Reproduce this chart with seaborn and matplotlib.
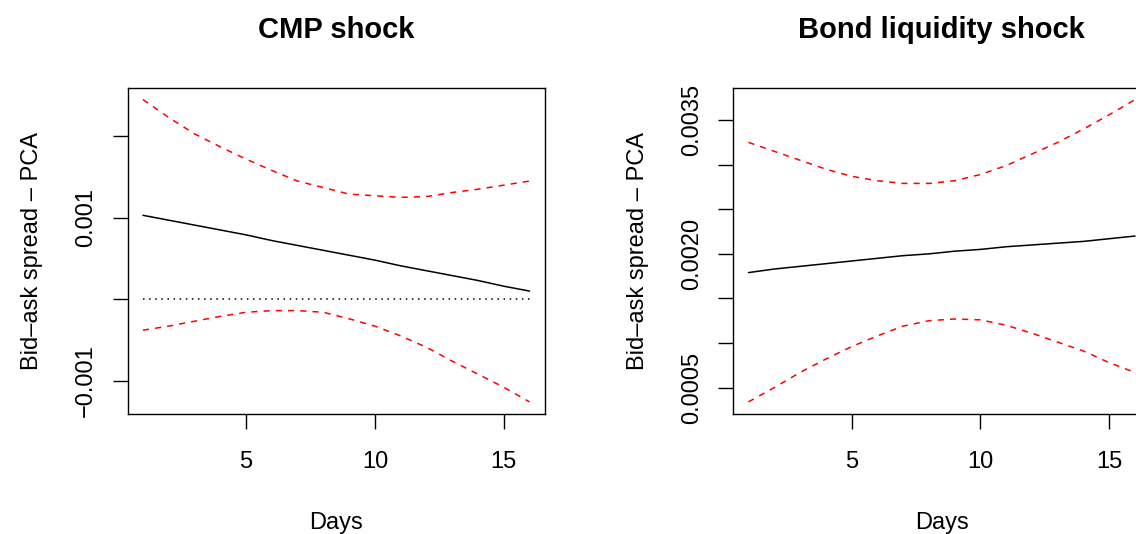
import numpy as np
import pandas as pd
import matplotlib
matplotlib.use("Agg")
import matplotlib.pyplot as plt
import seaborn as sns

# ---------------- data ----------------
days = list(range(1, 17))

cmp_irf = [0.00103, 0.00097, 0.00091, 0.00085, 0.00079, 0.00072, 0.00066, 0.00060,
           0.00054, 0.00048, 0.00041, 0.00035, 0.00029, 0.00023, 0.00016, 0.00010]
cmp_upper = [0.00245, 0.00223, 0.00203, 0.00187, 0.00172, 0.00158, 0.00145, 0.00137,
             0.00129, 0.00127, 0.00125, 0.00126, 0.00131, 0.00135, 0.00140, 0.00145]
cmp_lower = [-0.00038, -0.00033, -0.00027, -0.00021, -0.00016, -0.00014, -0.00014, -0.00016,
             -0.00024, -0.00033, -0.00045, -0.00059, -0.00076, -0.00092, -0.00108, -0.00126]

bond_irf = [0.00179, 0.00183, 0.00186, 0.00189, 0.00192, 0.00195, 0.00198, 0.00200,
            0.00203, 0.00205, 0.00208, 0.00210, 0.00212, 0.00214, 0.00217, 0.00220]
bond_upper = [0.00325, 0.00315, 0.00305, 0.00295, 0.00287, 0.00282, 0.00279, 0.00279,
              0.00282, 0.00289, 0.00299, 0.00312, 0.00325, 0.00340, 0.00356, 0.00373]
bond_lower = [0.00034, 0.00050, 0.00067, 0.00082, 0.00096, 0.00108, 0.00119, 0.00125,
              0.00127, 0.00126, 0.00120, 0.00111, 0.00101, 0.00091, 0.00078, 0.00067]

titles = ["CMP shock", "Bond liquidity shock"]
ylabel = "Bid\u2013ask spread \u2013 PCA"
xlabel = "Days"
x_ticks = [5, 10, 15]
cmp_yticks = [0.002, 0.001, 0.0, -0.001]
cmp_yticklabels = ["", "0.001", "", "\u22120.001"]
bond_yticks = [0.0005, 0.0010, 0.0015, 0.0020, 0.0025, 0.0030, 0.0035]
bond_yticklabels = ["0.0005", "", "", "0.0020", "", "", "0.0035"]

# ---------------- style ----------------
sns.set_style("white")
plt.rcParams["font.family"] = ["Liberation Sans", "DejaVu Sans"]
plt.rcParams["text.color"] = "black"
plt.rcParams["axes.labelcolor"] = "black"
plt.rcParams["xtick.color"] = "black"
plt.rcParams["ytick.color"] = "black"

fig = plt.figure(figsize=(11.36, 5.34), dpi=100)
W, H = 1136, 534
ax_w = 417.5 / W
ax_h = (414 - 87.5) / H
bottom = 1 - 414 / H
ax1 = fig.add_axes([127.5 / W, bottom, ax_w, ax_h])
ax2 = fig.add_axes([733.0 / W, bottom, ax_w, ax_h])

fs = 17
panels = [
    (ax1, cmp_irf, cmp_upper, cmp_lower, cmp_yticks, cmp_yticklabels, True),
    (ax2, bond_irf, bond_upper, bond_lower, bond_yticks, bond_yticklabels, False),
]

for i, (ax, irf, up, lo, yt, ytl, zero) in enumerate(panels):
    df = pd.DataFrame({"day": days, "irf": irf, "up": up, "lo": lo})
    sns.lineplot(data=df, x="day", y="irf", ax=ax, color="black", lw=1.1)
    sns.lineplot(data=df, x="day", y="up", ax=ax, color="red", lw=1.1,
                 linestyle=(0, (4, 4)))
    sns.lineplot(data=df, x="day", y="lo", ax=ax, color="red", lw=1.1,
                 linestyle=(0, (4, 4)))
    if zero:
        ax.hlines(0, days[0], days[-1], colors="black", lw=1.1,
                  linestyles=[(0, (1, 3))])
    ax.margins(x=0.04, y=0.04)
    ax.set_xticks(x_ticks)
    ax.set_xticklabels([str(t) for t in x_ticks])
    ax.set_yticks(yt)
    ax.set_yticklabels(ytl, rotation=90, va="center")
    ax.tick_params(axis="both", which="major", length=10.8, width=1.0,
                   color="black", labelcolor="black", labelsize=fs,
                   direction="out", bottom=True, left=True)
    ax.tick_params(axis="x", pad=16)
    ax.tick_params(axis="y", pad=11)
    for s in ax.spines.values():
        s.set_visible(True)
        s.set_color("black")
        s.set_linewidth(1.0)
    ax.set_xlabel(xlabel, fontsize=fs, labelpad=28, color="black")
    ax.set_ylabel(ylabel, fontsize=fs, labelpad=23, color="black")
    ax.set_title(titles[i], fontsize=21, fontweight="bold", pad=36, color="black")
    ax.grid(False)

fig.savefig("out.png", dpi=100)
